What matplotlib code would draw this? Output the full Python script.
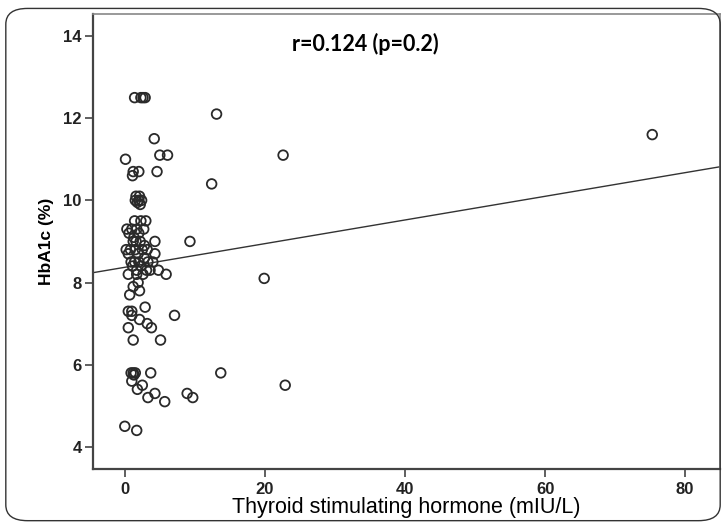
import matplotlib.pyplot as plt
import numpy as np
from matplotlib.patches import FancyBboxPatch

# TSH (mIU/L) und HbA1c (%)
tsh = [1.4, 2.3, 2.6, 2.9, 13.1, 75.3, 4.2, 0.1, 5.0, 6.1, 22.6, 1.2, 2.0, 1.1, 4.6, 12.4,
       1.6, 2.1, 1.5, 2.0, 2.4, 1.8, 2.2,
       1.4, 2.3, 3.0, 1.0, 1.7, 0.6, 2.0, 0.3, 2.7,
       1.2, 1.6, 2.2, 4.3, 9.3, 2.8, 1.3,
       0.2, 0.8, 1.5, 2.5, 3.2, 4.3, 0.5, 1.9, 2.8,
       0.9, 1.4, 2.0, 4.0, 1.1, 2.3, 3.1, 3.6, 4.8, 1.7, 2.6, 3.3,
       0.5, 1.7, 5.9, 19.9, 1.9,
       1.2, 2.1, 0.7, 2.9, 0.5, 1.0, 7.1, 1.0, 2.1, 3.2, 3.8, 0.5, 1.2, 5.1,
       0.9, 1.2, 1.5, 1.3, 3.7, 13.7, 1.0, 2.5, 22.9, 1.8, 4.3, 8.9, 3.3, 9.7, 5.7,
       0.0, 1.7]
hba1c = [12.5, 12.5, 12.5, 12.5, 12.1, 11.6, 11.5, 11.0, 11.1, 11.1, 11.1, 10.7, 10.7, 10.6, 10.7, 10.4,
         10.1, 10.1, 10.0, 10.0, 10.0, 9.95, 9.9,
         9.5, 9.5, 9.5, 9.3, 9.3, 9.2, 9.2, 9.3, 9.3,
         9.0, 9.0, 9.0, 9.0, 9.0, 8.9, 9.1,
         8.8, 8.8, 8.8, 8.8, 8.8, 8.7, 8.7, 8.7, 8.6,
         8.5, 8.5, 8.5, 8.5, 8.4, 8.4, 8.3, 8.3, 8.3, 8.3, 8.2, 8.5,
         8.2, 8.2, 8.2, 8.1, 8.0,
         7.9, 7.8, 7.7, 7.4, 7.3, 7.3, 7.2, 7.2, 7.1, 7.0, 6.9, 6.9, 6.6, 6.6,
         5.8, 5.8, 5.8, 5.75, 5.8, 5.8, 5.6, 5.5, 5.5, 5.4, 5.3, 5.3, 5.2, 5.2, 5.1,
         4.5, 4.4]

# Regressionsgerade
intercept = 8.37
slope = 0.0288

x_ticks = [0, 20, 40, 60, 80]
y_ticks = [4, 6, 8, 10, 12, 14]

tick_font = ['Liberation Sans Narrow', 'Liberation Sans', 'DejaVu Sans']

fig = plt.figure(figsize=(7.26, 5.27), dpi=100)

# abgerundeter Rahmen um die ganze Abbildung
frame = FancyBboxPatch((0.008, 0.012), 0.984, 0.972, boxstyle='round,pad=0,rounding_size=0.03',
                       transform=fig.transFigure, facecolor='none', edgecolor='#333333', linewidth=1.0)
fig.patches.append(frame)

ax = fig.add_axes([0.128, 0.110, 0.864, 0.863])
ax.set_xlim(-4.55, 85.0)
ax.set_ylim(3.46, 14.53)

ax.scatter(tsh, hba1c, s=48, facecolors='none', edgecolors='#2a2a2a', linewidths=1.3, zorder=3)

xl = np.array(ax.get_xlim())
ax.plot(xl, intercept + slope * xl, color='#333333', linewidth=1.0, zorder=2)

ax.set_xticks(x_ticks)
ax.set_yticks(y_ticks)
ax.tick_params(axis='both', direction='out', length=6, width=1.2, color='#444444')
ax.tick_params(axis='x', pad=3)
ax.tick_params(axis='y', pad=2)
for lab in ax.get_xticklabels() + ax.get_yticklabels():
    lab.set_fontfamily(tick_font)
    lab.set_fontweight('bold')
    lab.set_fontsize(12)
    lab.set_color('#222222')

for side in ['left', 'bottom']:
    ax.spines[side].set_color('#444444')
    ax.spines[side].set_linewidth(1.6)
for side in ['top', 'right']:
    ax.spines[side].set_color('#888888')
    ax.spines[side].set_linewidth(1.2)

ax.set_ylabel('HbA1c (%)', fontfamily=tick_font, fontweight='bold', fontsize=12.5, labelpad=7)
ax.set_xlabel('Thyroid stimulating hormone (mIU/L)', fontfamily=['Liberation Sans', 'DejaVu Sans'],
              fontsize=15.5, labelpad=0)

ax.text(0.434, 0.934, 'r=0.124 (p=0.2)', transform=ax.transAxes, ha='center', va='center',
        fontsize=15.5, fontweight='bold', fontfamily=['Lato', 'DejaVu Sans'])

fig.savefig('out.png', dpi=100)
